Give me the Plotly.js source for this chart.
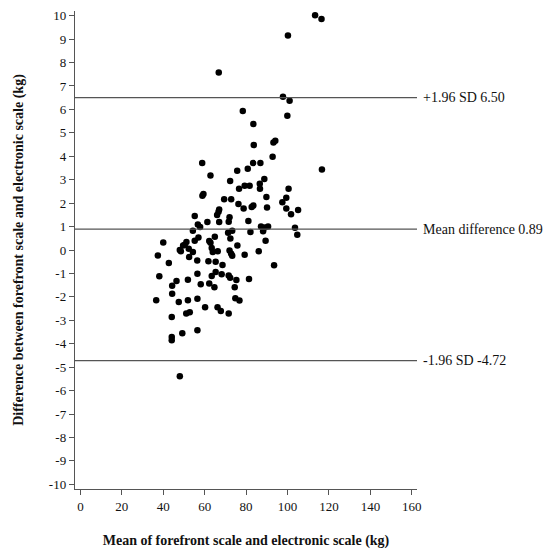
<!DOCTYPE html>
<html>
<head>
<meta charset="utf-8">
<script src="https://cdn.plot.ly/plotly-3.0.1.min.js"></script>
<style>
    html, body { margin: 0; padding: 0; background: #ffffff; }
    #chart { width: 547px; height: 550px; }
</style>
</head>
<body>
<div id="chart"></div>
<script>
// Bland-Altman: mean of both scales vs. their difference (kg)
const meanOfScales = [
    113.3, 116.4, 100.2, 66.8, 97.8, 101.0, 78.4, 99.9, 83.5, 83.7,
    93.2, 94.1, 92.8, 58.8, 83.4, 86.9, 116.6, 62.8, 75.7, 80.8,
    72.3, 88.8, 86.6, 86.7, 79.3, 81.7, 76.6, 59.4, 58.9, 100.5,
    89.8, 99.4, 97.5, 69.4, 72.8, 76.3, 78.8, 82.7, 83.5, 90.1,
    99.4, 105.1, 101.7, 67.0, 66.7, 66.0, 55.2, 72.0, 71.6, 61.3,
    67.0, 56.7, 57.8, 81.1, 87.2, 89.0, 90.6, 103.6, 104.7, 54.3,
    73.3, 71.3, 82.1, 88.2, 89.4, 40.0, 57.0, 55.2, 64.9, 62.2,
    62.8, 72.4, 51.2, 49.6, 50.4, 52.3, 48.5, 48.0, 54.3, 63.4,
    63.9, 66.3, 75.8, 72.0, 72.8, 73.3, 79.3, 86.1, 37.4, 52.5,
    42.7, 56.4, 61.8, 65.3, 68.6, 93.5, 38.1, 46.4, 44.3, 51.9,
    56.5, 65.3, 63.4, 68.2, 71.6, 72.3, 75.3, 81.4, 58.1, 62.2,
    74.5, 64.7, 44.3, 36.6, 47.5, 51.9, 56.5, 60.2, 66.2, 67.8,
    71.6, 51.1, 52.8, 74.8, 76.8, 44.1, 56.5, 49.2, 44.1, 44.1,
    48.0,
];
const diffOfScales = [
    10.02, 9.86, 9.15, 7.57, 6.54, 6.37, 5.93, 5.73, 5.38, 4.48,
    4.59, 4.66, 3.98, 3.71, 3.71, 3.71, 3.44, 3.18, 3.38, 3.47,
    2.95, 3.03, 2.83, 2.61, 2.74, 2.74, 2.61, 2.39, 2.31, 2.61,
    2.26, 2.23, 2.04, 2.17, 2.17, 1.96, 1.77, 1.84, 1.90, 1.81,
    1.77, 1.71, 1.53, 1.73, 1.63, 1.49, 1.45, 1.40, 1.21, 1.20,
    1.19, 1.09, 0.98, 1.24, 1.00, 0.96, 1.00, 0.95, 0.65, 0.82,
    0.82, 0.74, 0.77, 0.80, 0.40, 0.32, 0.53, 0.40, 0.57, 0.38,
    0.31, 0.49, 0.34, 0.19, 0.22, 0.05, -0.05, 0.00, -0.09, 0.09,
    -0.09, -0.05, 0.19, -0.02, -0.16, -0.25, -0.20, -0.05, -0.24, -0.30,
    -0.55, -0.45, -0.48, -0.50, -0.64, -0.65, -1.12, -1.32, -1.53, -1.27,
    -1.01, -0.94, -1.11, -1.03, -1.09, -1.18, -1.28, -1.24, -1.46, -1.43,
    -1.59, -1.59, -1.87, -2.14, -2.22, -2.14, -2.08, -2.44, -2.44, -2.60,
    -2.71, -2.71, -2.66, -2.06, -2.16, -2.86, -3.43, -3.55, -3.71, -3.85,
    -5.39,
];

const limitValues = [6.50, 0.89, -4.72];
const limitLabels = ["+1.96 SD 6.50", "Mean difference 0.89", "-1.96 SD -4.72"];

const xTickValues = [0, 20, 40, 60, 80, 100, 120, 140, 160];
const yTickValues = [10, 9, 8, 7, 6, 5, 4, 3, 2, 1, 0, -1, -2, -3, -4, -5, -6, -7, -8, -9, -10];
const yTickLabels = yTickValues.map((v) => String(v));

const SERIF = "\"Liberation Serif\", \"Times New Roman\", serif";
const AXIS_GREY = "#555555";

const traces = [{
    type: "scatter",
    mode: "markers",
    x: meanOfScales,
    y: diffOfScales,
    marker: { color: "#000000", size: 6.5 },
    hoverinfo: "skip",
    showlegend: false,
}];

const shapes = limitValues.map((v) => ({
    type: "line",
    xref: "paper",
    yref: "y",
    x0: 0,
    x1: 1,
    y0: v,
    y1: v,
    line: { color: AXIS_GREY, width: 1.2 },
}));

const annotations = limitValues.map((v, i) => ({
    xref: "paper",
    yref: "y",
    x: 1,
    y: v,
    xshift: 4,
    xanchor: "left",
    yanchor: "middle",
    showarrow: false,
    text: limitLabels[i],
    font: { family: SERIF, size: 14, color: "#111111" },
}));

const axisCommon = {
    showgrid: false,
    zeroline: false,
    showline: true,
    linecolor: AXIS_GREY,
    linewidth: 1.2,
    ticks: "outside",
    ticklen: 5,
    tickcolor: AXIS_GREY,
    tickfont: { family: SERIF, size: 13, color: "#111111" },
};

Plotly.newPlot("chart", traces, {
    width: 547,
    height: 550,
    margin: { t: 11, r: 130, b: 61, l: 75 },
    paper_bgcolor: "#ffffff",
    plot_bgcolor: "#ffffff",
    font: { family: SERIF, color: "#111111" },
    xaxis: {
        ...axisCommon,
        range: [-2.6, 162.5],
        tickvals: xTickValues,
        title: {
            text: "Mean of forefront scale and electronic scale (kg)",
            font: { family: SERIF, size: 14, weight: "bold", color: "#111111" },
            standoff: 22,
        },
    },
    yaxis: {
        ...axisCommon,
        range: [-10.2, 10.2],
        tickvals: yTickValues,
        ticktext: yTickLabels,
        title: {
            text: "Difference between forefront scale and electronic scale (kg)",
            font: { family: SERIF, size: 14, weight: "bold", color: "#111111" },
            standoff: 22,
        },
    },
    shapes: shapes,
    annotations: annotations,
}, { displayModeBar: false, staticPlot: true });
</script>
</body>
</html>
